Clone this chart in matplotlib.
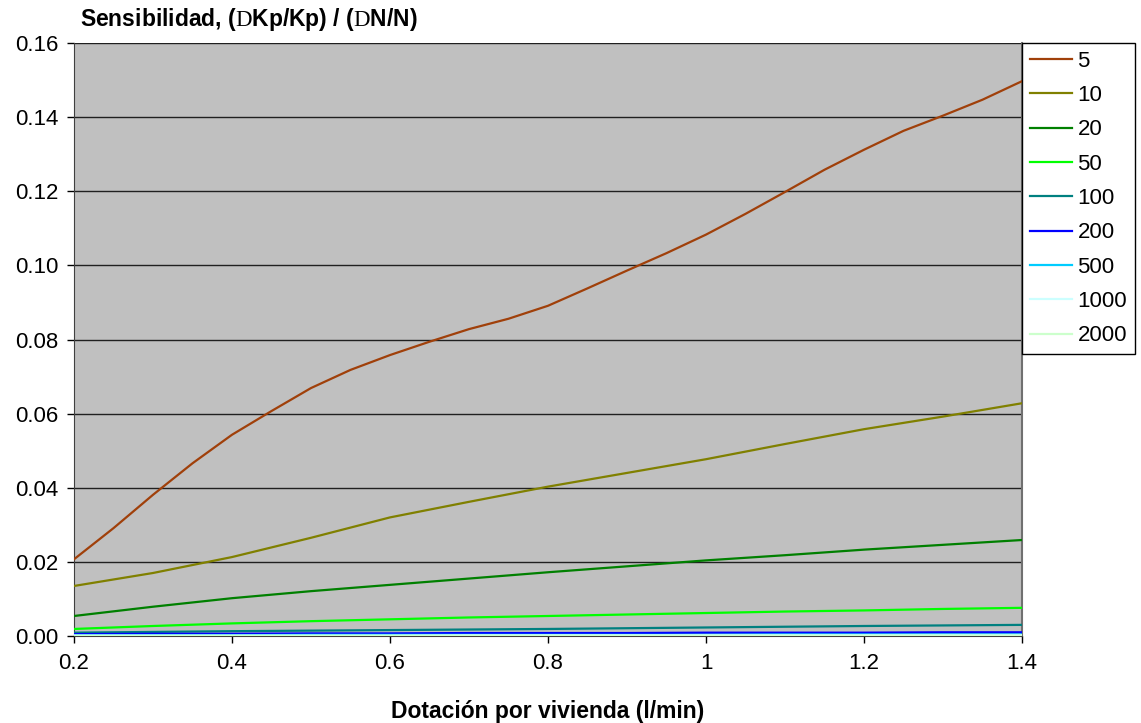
import numpy as np
import matplotlib
matplotlib.use("Agg")
import matplotlib.pyplot as plt

plt.rcParams['font.family'] = ['Liberation Sans', 'DejaVu Sans']
plt.rcParams['mathtext.fontset'] = 'custom'
plt.rcParams['mathtext.rm'] = 'Liberation Serif'

# dotacion por vivienda (l/min)
dotacion = [0.2, 0.3, 0.4, 0.5, 0.6, 0.7, 0.8, 0.9, 1.0, 1.1, 1.2, 1.3, 1.4]
dotacion_fina = [0.2, 0.25, 0.3, 0.35, 0.4, 0.45, 0.5, 0.55, 0.6, 0.65, 0.7, 0.75,
                 0.8, 0.85, 0.9, 0.95, 1.0, 1.05, 1.1, 1.15, 1.2, 1.25, 1.3, 1.35, 1.4]

# sensibilidad por numero de viviendas
s_5 = [0.0207, 0.0291, 0.0381, 0.0466, 0.0543, 0.0607, 0.0669, 0.0718, 0.0758,
       0.0794, 0.0828, 0.0856, 0.0891, 0.0938, 0.0986, 0.1033, 0.1083, 0.1139,
       0.1198, 0.1258, 0.1312, 0.1363, 0.1404, 0.1447, 0.1497]
s_10 = [0.0135, 0.0170, 0.0213, 0.0265, 0.0320, 0.0362, 0.0403, 0.0440, 0.0477, 0.0518, 0.0558, 0.0592, 0.0628]
s_20 = [0.0054, 0.0079, 0.0102, 0.0121, 0.0138, 0.0155, 0.0172, 0.0188, 0.0204, 0.0218, 0.0233, 0.0246, 0.0259]
s_50 = [0.0019, 0.0027, 0.0034, 0.0040, 0.0045, 0.0050, 0.0054, 0.0058, 0.0062, 0.0066, 0.0069, 0.0073, 0.0076]
s_100 = [0.0009, 0.0011, 0.0013, 0.00145, 0.0016, 0.00175, 0.0019, 0.0021, 0.0023, 0.0025, 0.0027, 0.00285, 0.0030]
s_200 = [0.0005, 0.0006, 0.0006, 0.0007, 0.0007, 0.0008, 0.0008, 0.0008, 0.0009, 0.0009, 0.0009, 0.0010, 0.0010]
s_500 = [0.0002, 0.0002, 0.0002, 0.0003, 0.0003, 0.0003, 0.0003, 0.0003, 0.0003, 0.0004, 0.0004, 0.0004, 0.0004]
s_1000 = [0.0001, 0.0001, 0.0001, 0.0001, 0.0001, 0.0002, 0.0002, 0.0002, 0.0002, 0.0002, 0.0002, 0.0002, 0.0002]
s_2000 = [0.00005, 0.00005, 0.00005, 0.00006, 0.00006, 0.00007, 0.00007, 0.00008, 0.00008, 0.00008, 0.00009, 0.00009, 0.0001]

etiquetas = ['5', '10', '20', '50', '100', '200', '500', '1000', '2000']
series = [s_5, s_10, s_20, s_50, s_100, s_200, s_500, s_1000, s_2000]
colores = ['#A0400A', '#808000', '#008000', '#00FF00', '#008080',
           '#0000FF', '#00CCFF', '#CCFFFF', '#CCFFCC']

x_ticks = [0.2, 0.4, 0.6, 0.8, 1.0, 1.2, 1.4]
x_labels = ['0.2', '0.4', '0.6', '0.8', '1', '1.2', '1.4']
y_ticks = [0.00, 0.02, 0.04, 0.06, 0.08, 0.10, 0.12, 0.14, 0.16]

fig = plt.figure(figsize=(11.41, 7.23), dpi=100)
ax = fig.add_axes([74 / 1141, 1 - 636 / 723, 948 / 1141, 593 / 723])
ax.set_facecolor('#C0C0C0')

for s, lab, c in zip(series, etiquetas, colores):
    xs = dotacion_fina if len(s) == len(dotacion_fina) else dotacion
    ax.plot(xs, s, color=c, lw=1.6, label=lab, zorder=3)

ax.set_xlim(0.2, 1.4)
ax.set_ylim(0, 0.16)
ax.set_xticks(x_ticks)
ax.set_xticklabels(x_labels)
ax.set_yticks(y_ticks)
ax.set_yticklabels(['%.2f' % v for v in y_ticks])
ax.yaxis.grid(True, color='#202020', lw=1.0, zorder=1)
ax.set_axisbelow(True)
ax.tick_params(labelsize=16, direction='out', length=5, width=1)
ax.tick_params(axis='x', pad=7)
ax.tick_params(axis='y', pad=6)

ax.spines['top'].set_visible(False)
ax.spines['right'].set_color('#707070')
ax.spines['right'].set_linewidth(1.5)
ax.spines['left'].set_color('#404040')
ax.spines['bottom'].set_color('#404040')

fig.text(548 / 1141, 1 - 718 / 723, 'Dotación por vivienda (l/min)',
         fontsize=16.5, fontweight='bold', ha='center', va='baseline')
fig.text(80 / 1141, 1 - 26 / 723, r'Sensibilidad, ($\mathrm{D}$Kp/Kp) / ($\mathrm{D}$N/N)',
         fontsize=16.5, fontweight='bold', ha='left', va='baseline')

leg = ax.legend(loc='upper left', bbox_to_anchor=(1.0, 1.0), fontsize=16,
                frameon=True, fancybox=False, edgecolor='black', framealpha=1,
                borderaxespad=0, handlelength=1.9, labelspacing=0.6,
                borderpad=0.35, handletextpad=0.25)
leg.get_frame().set_linewidth(1.0)

fig.savefig('out.png', dpi=100)
